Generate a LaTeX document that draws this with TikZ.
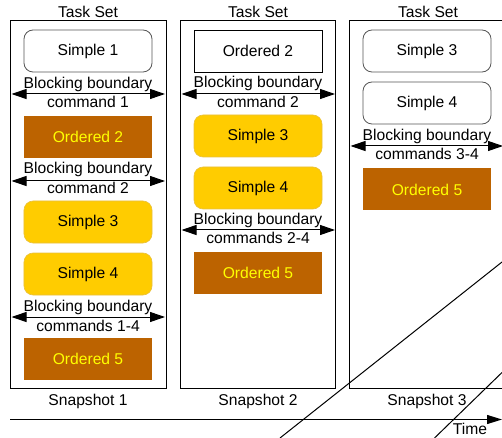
\documentclass[tikz,border=0pt]{standalone}
\usepackage{fontspec}
\setmainfont{Liberation Sans}
\usetikzlibrary{arrows.meta}
\definecolor{ordfill}{HTML}{BC6300}
\definecolor{ordtext}{HTML}{FFFF00}
\definecolor{yelfill}{HTML}{FFCC00}
\definecolor{yelline}{HTML}{E8C040}
\definecolor{simline}{HTML}{555555}
\tikzset{
  box/.style={minimum width=128bp, minimum height=42bp, inner sep=0pt, font=\fontsize{15.7}{18}\selectfont},
  simplew/.style={box, draw=simline, fill=white, rounded corners=9bp, line width=0.8bp},
  simpley/.style={box, draw=yelline, fill=yelfill, rounded corners=9bp, line width=0.6bp},
  ordw/.style={box, draw=black, fill=white, line width=0.9bp},
  ordb/.style={box, fill=ordfill, text=ordtext},
  frame/.style={draw=black, line width=1bp},
  blabel/.style={align=center, inner sep=0pt, font=\fontsize{15.7}{19.5}\selectfont},
  plain/.style={inner sep=0pt, font=\fontsize{15.7}{18}\selectfont},
  barrow/.style={line width=1bp, {Triangle[length=15bp,width=10bp]}-{Triangle[length=15bp,width=10bp]}},
  tarrow/.style={line width=1bp, -{Triangle[length=15bp,width=9bp]}},
}
\begin{document}
\begin{tikzpicture}[x=1bp,y=-1bp]
\useasboundingbox (0,0) rectangle (502,438);
\clip (0,0) rectangle (502,438);
% frames
\draw[frame] (10.5,21) rectangle (166,388);
\draw[frame] (180.5,21) rectangle (335.5,388);
\draw[frame] (349.5,21) rectangle (505,388);
\node[plain] (ts1) at (88,12) {Task Set};
\node[plain] (ts2) at (258,12) {Task Set};
\node[plain] (ts3) at (428,12) {Task Set};
\node[plain] (sn1) at (88,401) {Snapshot 1};
\node[plain] (sn2) at (258,401) {Snapshot 2};
\node[plain] (sn3) at (427,401) {Snapshot 3};
% frame 1
\node[simplew] (f1s1) at (88,51) {Simple 1};
\node[ordb] (f1o2) at (88,137) {Ordered 2};
\node[simpley] (f1s3) at (88,222) {Simple 3};
\node[simpley] (f1s4) at (88,274) {Simple 4};
\node[ordb] (f1o5) at (88,358.5) {Ordered 5};
\coordinate (a1l) at (11.5,94); \coordinate (a1r) at (165,94);
\coordinate (a2l) at (11.5,181); \coordinate (a2r) at (165,181);
\coordinate (a3l) at (11.5,317); \coordinate (a3r) at (165,317);
\draw[barrow] (a1l) -- (a1r);
\draw[barrow] (a2l) -- (a2r);
\draw[barrow] (a3l) -- (a3r);
\node[blabel] (l1a) at (88,92.5) {Blocking boundary\\command 1};
\node[blabel] (l1b) at (88,178) {Blocking boundary\\command 2};
\node[blabel] (l1c) at (88,316) {Blocking boundary\\commands 1-4};
% frame 2
\node[ordw] (f2o2) at (258,51) {Ordered 2};
\node[simpley] (f2s3) at (258,136) {Simple 3};
\node[simpley] (f2s4) at (258,188) {Simple 4};
\node[ordb] (f2o5) at (258,272.5) {Ordered 5};
\coordinate (b1l) at (181.5,94); \coordinate (b1r) at (335,94);
\coordinate (b2l) at (181.5,230); \coordinate (b2r) at (335,230);
\draw[barrow] (b1l) -- (b1r);
\draw[barrow] (b2l) -- (b2r);
\node[blabel] (l2a) at (258,92) {Blocking boundary\\command 2};
\node[blabel] (l2b) at (258,228.5) {Blocking boundary\\commands 2-4};
% frame 3
\node[simplew] (f3s3) at (427,51) {Simple 3};
\node[simplew] (f3s4) at (427,103) {Simple 4};
\node[ordb] (f3o5) at (427,189.5) {Ordered 5};
\coordinate (c1l) at (350.5,146); \coordinate (c1r) at (503,146);
\draw[barrow] (c1l) -- (c1r);
\node[blabel] (l3a) at (427,144.5) {Blocking boundary\\commands 3-4};
% time axis
\coordinate (t0) at (10,419.5); \coordinate (t1) at (502,419.5);
\draw[tarrow] (t0) -- (t1);
\node[plain] (time) at (470,429) {Time};
% diagonal lines
\coordinate (d1a) at (280,438); \coordinate (d1b) at (502,262);
\coordinate (d2a) at (434.5,438); \coordinate (d2b) at (502,372.5);
\draw[line width=1bp] (d1a) -- (d1b);
\draw[line width=1bp] (d2a) -- (d2b);
\end{tikzpicture}
\end{document}
